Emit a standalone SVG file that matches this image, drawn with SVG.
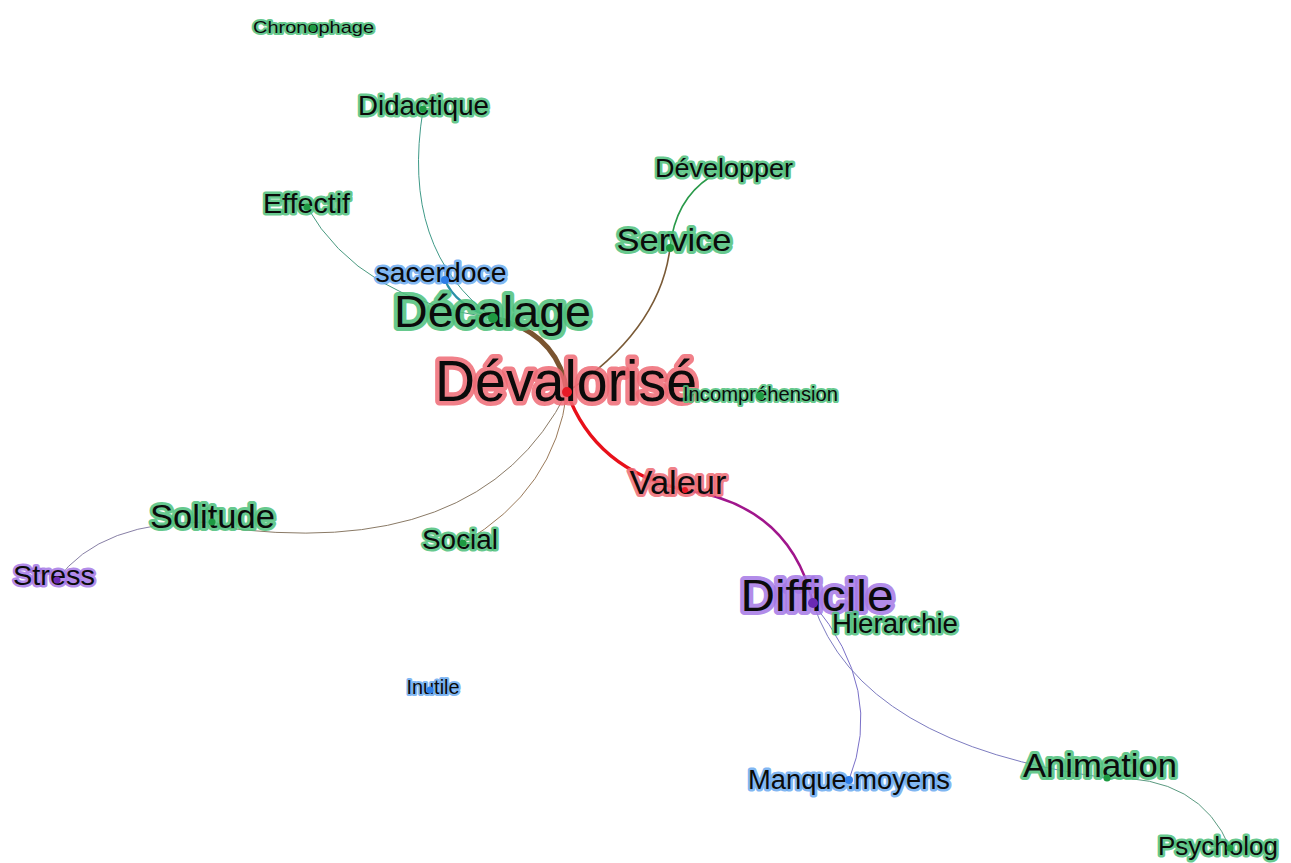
<svg xmlns="http://www.w3.org/2000/svg" width="1291" height="863" viewBox="0 0 1291 863">
<style>
  text { font-family: "Liberation Sans", Arial, sans-serif; text-anchor: middle; fill: #0b0b0b; paint-order: stroke fill; stroke-linejoin: round; stroke-opacity: 0.85; }
  .g text { stroke: #4cc07a; }
  .r text { stroke: #ee6a74; }
  .p text { stroke: #a477e6; }
  .b text { stroke: #6aaaf0; }
  .g circle { fill: #1e9a42; }
  .r circle { fill: #e81a26; }
  .p circle { fill: #6a2ab4; }
  .b circle { fill: #2f7ee6; }
  .e { fill: none; stroke-linecap: round; }
</style>
<rect width="1291" height="863" fill="#ffffff"/>
<g id="edges">
  <path class="e" d="M307,207 Q360,300 493,318" stroke="#4a9a80" stroke-width="1"/>
  <path class="e" d="M423,110 Q400,250 493,318" stroke="#3f9a88" stroke-width="1"/>
  <path class="e" d="M445,280 Q455,305 493,318" stroke="#2a90a8" stroke-width="2.2"/>
  <path class="e" d="M493,318 Q558,332 567,392" stroke="#7a5430" stroke-width="5"/>
  <path class="e" d="M670,248 Q660,330 567,392" stroke="#7a5a36" stroke-width="1.6"/>
  <path class="e" d="M710,177 Q675,200 670,248" stroke="#2a9a4a" stroke-width="1.6"/>
  <path class="e" d="M567,392 Q595,470 685,490" stroke="#e8101a" stroke-width="3.5"/>
  <path class="e" d="M685,490 Q790,505 813,603" stroke="#a0168c" stroke-width="2.5"/>
  <path class="e" d="M567,392 Q480,565 212,526" stroke="#8a7a66" stroke-width="1"/>
  <path class="e" d="M567,392 Q555,490 463,543" stroke="#9a7a5a" stroke-width="1"/>
  <path class="e" d="M212,522 Q100,520 57,580" stroke="#8880a6" stroke-width="1"/>
  <path class="e" d="M813,603 Q885,690 849,780" stroke="#7a70c8" stroke-width="1"/>
  <path class="e" d="M813,603 Q860,745 1107,778" stroke="#7d7cc0" stroke-width="1"/>
  <path class="e" d="M1107,778 Q1200,775 1230,848" stroke="#5a9a80" stroke-width="1"/>
</g>
<g id="node-chronophage" class="g"><text x="313.5" y="33" font-size="17" stroke-width="4" textLength="121" lengthAdjust="spacingAndGlyphs">Chronophage</text><circle cx="313" cy="28" r="3.5"/></g>
<g id="node-didactique" class="g"><text x="423.5" y="115" font-size="28" stroke-width="5" textLength="131" lengthAdjust="spacingAndGlyphs">Didactique</text><circle cx="423" cy="109" r="3.5"/></g>
<g id="node-effectif" class="g"><text x="306.5" y="213" font-size="28" stroke-width="5" textLength="87" lengthAdjust="spacingAndGlyphs">Effectif</text><circle cx="307" cy="207" r="3.5"/></g>
<g id="node-developper" class="g"><text x="724" y="177" font-size="26" stroke-width="5" textLength="138" lengthAdjust="spacingAndGlyphs">Développer</text></g>
<g id="node-service" class="g"><text x="674" y="251" font-size="32" stroke-width="6" textLength="115" lengthAdjust="spacingAndGlyphs">Service</text><circle cx="670" cy="248" r="4"/></g>
<g id="node-sacerdoce" class="b"><text x="441" y="282" font-size="27" stroke-width="5" textLength="131" lengthAdjust="spacingAndGlyphs">sacerdoce</text><circle cx="445" cy="280" r="4"/></g>
<g id="node-decalage" class="g"><text x="492.5" y="327" font-size="45" stroke-width="8" textLength="197" lengthAdjust="spacingAndGlyphs">Décalage</text><circle cx="493" cy="318" r="5"/></g>
<g id="node-devalorise" class="r"><text x="566" y="401" font-size="57" stroke-width="9" textLength="262" lengthAdjust="spacingAndGlyphs">Dévalorisé</text><circle cx="567" cy="392" r="5"/></g>
<g id="node-incomprehension" class="g"><text x="760.5" y="401" font-size="20" stroke-width="4" textLength="155" lengthAdjust="spacingAndGlyphs">Incompréhension</text><circle cx="760" cy="396" r="4"/></g>
<g id="node-valeur" class="r"><text x="678" y="494" font-size="33" stroke-width="6" textLength="97" lengthAdjust="spacingAndGlyphs">Valeur</text><circle cx="685" cy="490" r="3"/></g>
<g id="node-difficile" class="p"><text x="817" y="611" font-size="44" stroke-width="8" textLength="153" lengthAdjust="spacingAndGlyphs">Difficile</text><circle cx="813" cy="603" r="5"/></g>
<g id="node-hierarchie" class="g"><text x="895" y="633" font-size="27" stroke-width="5" textLength="126" lengthAdjust="spacingAndGlyphs">Hierarchie</text></g>
<g id="node-solitude" class="g"><text x="212.5" y="528" font-size="33" stroke-width="6" textLength="125" lengthAdjust="spacingAndGlyphs">Solitude</text><circle cx="212" cy="522" r="3.5"/></g>
<g id="node-stress" class="p"><text x="54" y="585" font-size="28" stroke-width="5" textLength="82" lengthAdjust="spacingAndGlyphs">Stress</text><circle cx="57" cy="580" r="3.5"/></g>
<g id="node-social" class="g"><text x="460" y="549" font-size="27" stroke-width="5" textLength="76" lengthAdjust="spacingAndGlyphs">Social</text><circle cx="463" cy="543" r="3.5"/></g>
<g id="node-inutile" class="b"><text x="433" y="694" font-size="20" stroke-width="4" textLength="53" lengthAdjust="spacingAndGlyphs">Inutile</text><circle cx="430" cy="690" r="3.5"/></g>
<g id="node-manque-moyens" class="b"><text x="849" y="789" font-size="27" stroke-width="5" textLength="202" lengthAdjust="spacingAndGlyphs">Manque.moyens</text><circle cx="849" cy="780" r="4"/></g>
<g id="node-animation" class="g"><text x="1100" y="777" font-size="33" stroke-width="6" textLength="154" lengthAdjust="spacingAndGlyphs">Animation</text><circle cx="1107" cy="778" r="3.5"/></g>
<g id="node-psycholog" class="g"><text x="1218" y="855" font-size="26" stroke-width="5" textLength="120" lengthAdjust="spacingAndGlyphs">Psycholog</text><circle cx="1230" cy="848" r="3.5"/></g>
</svg>
